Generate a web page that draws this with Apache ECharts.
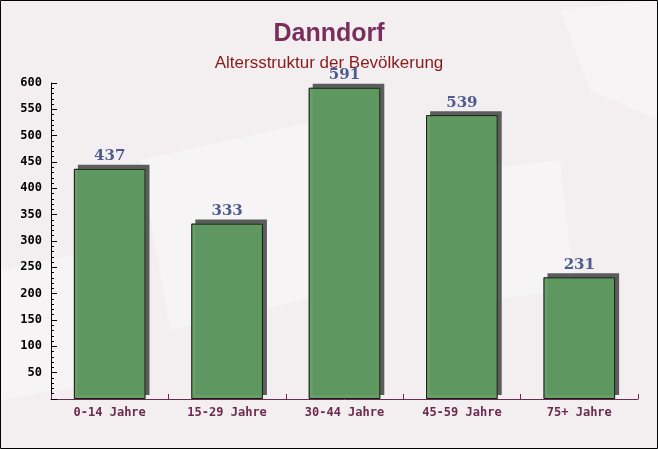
<!DOCTYPE html>
<html>
<head>
<meta charset="utf-8">
<script src="https://cdn.jsdelivr.net/npm/echarts@6/dist/echarts.min.js"></script>
<style>html,body{margin:0;padding:0;background:#f3eff1;}#c{width:658px;height:449px;}</style>
</head>
<body>
<div id="c"></div>
<script>
const categories = ['0-14 Jahre', '15-29 Jahre', '30-44 Jahre', '45-59 Jahre', '75+ Jahre'];
const values = [437, 333, 591, 539, 231];
const titleText = 'Danndorf';
const subtitleText = 'Altersstruktur der Bevölkerung';

const chart = echarts.init(document.getElementById('c'), null, {renderer: 'canvas'});
chart.setOption({
  backgroundColor: '#f3eff1',
  animation: false,
  graphic: [
    {type: 'polygon', z: -20, silent: true, shape: {points: [[140,160],[320,120],[350,290],[170,330]]}, style: {fill: 'rgba(255,255,255,0.3)'}},
    {type: 'polygon', z: -20, silent: true, shape: {points: [[430,175],[560,160],[575,290],[445,305]]}, style: {fill: 'rgba(255,255,255,0.3)'}},
    {type: 'polygon', z: -20, silent: true, shape: {points: [[560,10],[658,0],[658,120],[590,90]]}, style: {fill: 'rgba(255,255,255,0.3)'}},
    {type: 'polygon', z: -20, silent: true, shape: {points: [[0,270],[100,250],[120,380],[0,400]]}, style: {fill: 'rgba(255,255,255,0.3)'}},
    {type: 'rect', z: 100, silent: true,
     shape: {x: 0.5, y: 0.5, width: 657, height: 448},
     style: {fill: 'none', stroke: '#000', lineWidth: 1}}
  ],
  title: [
    {text: titleText, left: 'center', top: 17,
     textStyle: {fontFamily: 'Liberation Sans', fontWeight: 'bold', fontSize: 25, color: '#7a2e5b'}},
    {text: subtitleText, left: 'center', top: 50,
     textStyle: {fontFamily: 'Liberation Sans', fontWeight: 'normal', fontSize: 17, color: '#8b1a1a'}}
  ],
  grid: {left: 51, right: 20, top: 83, bottom: 50, containLabel: false},
  xAxis: {
    type: 'category',
    data: categories,
    boundaryGap: true,
    axisLine: {lineStyle: {color: '#6b2b4e', width: 1}},
    axisTick: {show: true, inside: true, length: 5, alignWithLabel: false, lineStyle: {color: '#6b2b4e'}},
    axisLabel: {fontFamily: 'DejaVu Sans Mono', fontWeight: 'bold', fontSize: 12, color: '#6b2b4e', margin: 8},
    splitLine: {show: false}
  },
  yAxis: {
    type: 'value',
    min: 0, max: 600, interval: 50,
    axisLine: {show: true, lineStyle: {color: '#000', width: 1}},
    axisTick: {show: true, inside: true, length: 6, lineStyle: {color: '#000'}},
    minorTick: {show: true, splitNumber: 5, length: 3, lineStyle: {color: '#000'}},
    axisLabel: {showMinLabel: false, fontFamily: 'DejaVu Sans Mono', fontWeight: 'bold', fontSize: 12, color: '#000', margin: 9},
    splitLine: {show: false}
  },
  series: [{
    type: 'bar',
    data: values,
    barWidth: '61%',
    itemStyle: {
      color: 'rgba(94,154,96,0.95)',
      borderWidth: 0,
      shadowColor: 'rgba(75,75,75,0.95)', shadowBlur: 0, shadowOffsetX: 4, shadowOffsetY: -4
    },
    label: {
      show: true, position: 'top', distance: 5,
      fontFamily: 'DejaVu Serif', fontWeight: 'bold', fontSize: 15, color: '#4e5b8e'
    },
    z: 2
  }, {
    type: 'bar',
    data: values,
    barWidth: '61%',
    barGap: '-100%',
    itemStyle: {color: 'rgba(0,0,0,0)', borderColor: '#1a1a1a', borderWidth: 1},
    label: {show: false},
    z: 3
  }]
});
</script>
</body>
</html>
